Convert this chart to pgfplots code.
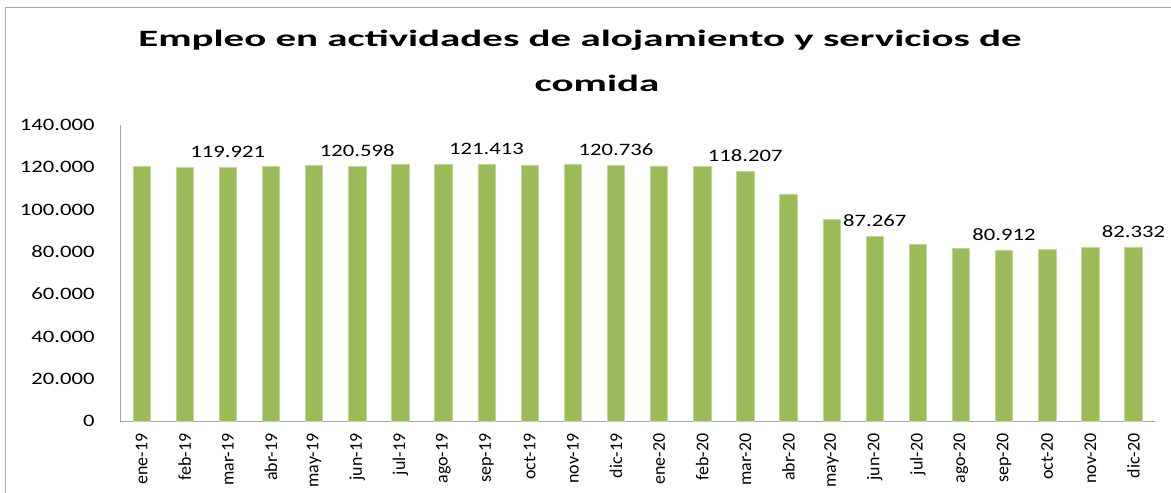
\documentclass[border=0pt]{standalone}
\usepackage{pgfplots}
\pgfplotsset{compat=1.18}
\usepackage{pgfplotstable}
\usepackage{fontspec}
\setmainfont{Carlito}
\definecolor{bargreen}{HTML}{9BBB59}
\pgfplotstableread{
x y lab
0 120300 {}
1 120000 {}
2 119921 119.921
3 120300 {}
4 120800 {}
5 120598 120.598
6 121500 {}
7 121400 {}
8 121413 121.413
9 121100 {}
10 121200 {}
11 120736 120.736
12 120700 {}
13 120300 {}
14 118207 118.207
15 107400 {}
16 95500 {}
17 87267 87.267
18 83700 {}
19 81500 {}
20 80912 80.912
21 81000 {}
22 82000 {}
23 82332 82.332
}\datatable
\begin{document}
\begin{tikzpicture}
\useasboundingbox (0,0) rectangle (1171bp,493bp);
\fill[white] (0,0) rectangle (1171bp,493bp);
\draw[gray!70, line width=1bp] (5bp,0) -- (5bp,485bp) -- (1171bp,485bp);
\node[font=\fontsize{23.5}{28}\bfseries\selectfont, xscale=1.75, anchor=base] at (580bp,446bp) {Empleo en actividades de alojamiento y servicios de};
\node[font=\fontsize{23.5}{28}\bfseries\selectfont, xscale=1.75, anchor=base] at (597bp,401bp) {comida};
\begin{axis}[
  at={(120bp,72bp)}, anchor=south west,
  scale only axis, width=1035bp, height=296bp,
  xmin=-0.5, xmax=23.5, ymin=0, ymax=140000,
  enlargelimits=false, clip=false,
  axis x line*=bottom, axis y line*=left,
  axis line style={gray!70, line width=1bp, -},
  major tick length=0pt,
  xtick=data,
  xticklabels={ene-19,feb-19,mar-19,abr-19,may-19,jun-19,jul-19,ago-19,sep-19,oct-19,nov-19,dic-19,ene-20,feb-20,mar-20,abr-20,may-20,jun-20,jul-20,ago-20,sep-20,oct-20,nov-20,dic-20},
  xticklabel style={rotate=90, anchor=east, font=\fontsize{18}{20}\selectfont, xshift=-9bp},
  ytick={0,20000,...,140000},
  scaled y ticks=false,
  yticklabel style={/pgf/number format/.cd, fixed, 1000 sep={.}, assume math mode=true, /tikz/.cd, font=\fontsize{17.5}{20}\selectfont, xscale=1.3, anchor=east, xshift=-16bp},
  ybar, bar width=17.3bp, bar shift=0pt,
  nodes near coords,
  point meta=explicit symbolic,
  nodes near coords style={font=\fontsize{17.5}{20}\selectfont, xscale=1.3, anchor=south, yshift=6bp},
]
\addplot[fill=bargreen, draw=bargreen!60!white, line width=0.6bp] table[x=x, y=y, meta=lab] {\datatable};
\end{axis}
\end{tikzpicture}
\end{document}
